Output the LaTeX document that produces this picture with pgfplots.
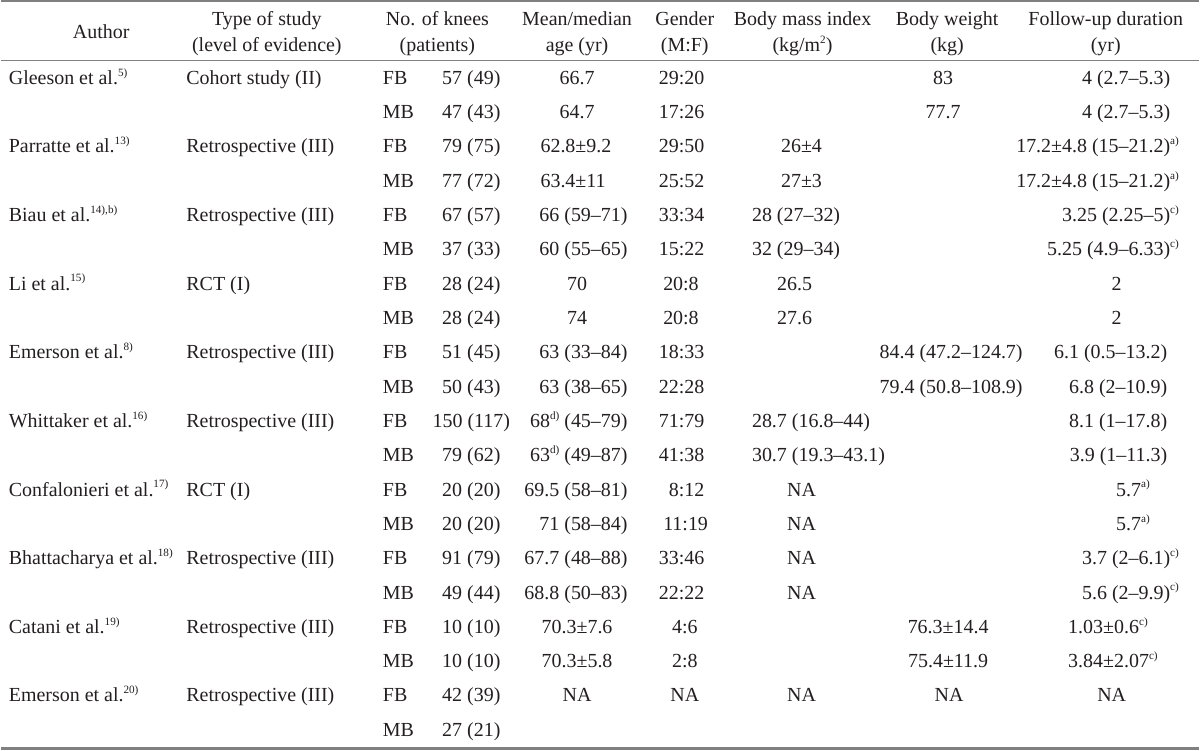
\documentclass[border=0pt]{standalone}
\usepackage{fontspec}
\setmainfont{Liberation Serif}
\usepackage{pgfplots}
\pgfplotsset{compat=1.18}
\definecolor{ink}{HTML}{231F20}
\definecolor{rule}{HTML}{808080}
\DeclareRobustCommand\sx[1]{\raisebox{0.9ex}{\fontsize{5.6}{6}\selectfont #1}}
\DeclareRobustCommand\hs[1]{\rlap{\sx{#1}}}
\newcommand\cellfont{\fontsize{10}{12}\selectfont}
\pgfplotsset{
  cell/.style={draw=none, mark=none, nodes near coords, point meta=explicit symbolic,
    nodes near coords style={anchor=#1, inner sep=0pt, font=\cellfont, text=ink}},
  rules/.style={rule, line width=#1, mark=none},
}

\begin{document}
\begin{tikzpicture}
\begin{axis}[
  hide axis, scale only axis, width=600pt, height=378pt,
  xmin=0, xmax=1200, ymin=0, ymax=756, y dir=reverse, clip=false,
]
% rules
\addplot[rules=1pt] coordinates {(0,2.5) (1200,2.5)};
\addplot[rules=0.4pt] coordinates {(0,62) (1200,62)};
\addplot[rules=1.5pt] coordinates {(0,752) (1200,752)};

% header
\addplot[cell=base] coordinates {
 (100,40) [Author]
 (266,27) [Type of study] (266,53) [(level of evidence)]
 (437,27) [No. of knees] (437,53) [(patients)]
 (577,27) [Mean/median] (577,53) [age (yr)]
 (685,27) [Gender] (685,53) [(M:F)]
 (803,27) [Body mass index] (803,53) [(kg/m\sx{2})]
 (948,27) [Body weight] (948,53) [(kg)]
 (1107,27) [Follow-up duration] (1107,53) [(yr)]
};

% left aligned cells
\addplot[cell=base west] coordinates {
 (7,86) [Gleeson et al.\sx{5)}]
 (7,154.8) [Parratte et al.\sx{13)}]
 (7,223.6) [Biau et al.\sx{14),b)}]
 (7,292.4) [Li et al.\sx{15)}]
 (7,361.2) [Emerson et al.\sx{8)}]
 (7,430) [Whittaker et al.\sx{16)}]
 (7,498.8) [Confalonieri et al.\sx{17)}]
 (7,567.6) [Bhattacharya et al.\sx{18)}]
 (7,636.4) [Catani et al.\sx{19)}]
 (7,705.2) [Emerson et al.\sx{20)}]
 (185,86) [Cohort study (II)]
 (185,154.8) [Retrospective (III)]
 (185,223.6) [Retrospective (III)]
 (185,292.4) [RCT (I)]
 (185,361.2) [Retrospective (III)]
 (185,430) [Retrospective (III)]
 (185,498.8) [RCT (I)]
 (185,567.6) [Retrospective (III)]
 (185,636.4) [Retrospective (III)]
 (185,705.2) [Retrospective (III)]
 (382,86) [FB] (382,120.4) [MB]
 (382,154.8) [FB] (382,189.2) [MB]
 (382,223.6) [FB] (382,258) [MB]
 (382,292.4) [FB] (382,326.8) [MB]
 (382,361.2) [FB] (382,395.6) [MB]
 (382,430) [FB] (382,464.4) [MB]
 (382,498.8) [FB] (382,533.2) [MB]
 (382,567.6) [FB] (382,602) [MB]
 (382,636.4) [FB] (382,670.8) [MB]
 (382,705.2) [FB] (382,739.6) [MB]
 (540,154.8) [62.8±9.2] (540,189.2) [63.4±11]
 (663,292.4) [20:8] (663,326.8) [20:8]
 (663,533.2) [11:19]
 (752,223.6) [28 (27–32)] (752,258) [32 (29–34)]
 (752,430) [28.7 (16.8–44)] (752,464.4) [30.7 (19.3–43.1)]
 (1069,636.4) [1.03±0.6\sx{c)}] (1069,670.8) [3.84±2.07\sx{c)}]
};

% right aligned cells
\addplot[cell=base east] coordinates {
 (628,223.6) [66 (59–71)] (628,258) [60 (55–65)]
 (628,361.2) [63 (33–84)] (628,395.6) [63 (38–65)]
 (628,430) [68\sx{d)} (45–79)] (628,464.4) [63\sx{d)} (49–87)]
 (628,498.8) [69.5 (58–81)] (628,533.2) [71 (58–84)]
 (628,567.6) [67.7 (48–88)] (628,602) [68.8 (50–83)]
 (705,86) [29:20] (705,120.4) [17:26]
 (705,154.8) [29:50] (705,189.2) [25:52]
 (705,223.6) [33:34] (705,258) [15:22]
 (705,361.2) [18:33] (705,395.6) [22:28]
 (705,430) [71:79] (705,464.4) [41:38]
 (705,498.8) [8:12]
 (705,567.6) [33:46] (705,602) [22:22]
 (1172,86) [4 (2.7–5.3)] (1172,120.4) [4 (2.7–5.3)]
 (1172,154.8) [17.2±4.8 (15–21.2)\hs{a)}] (1172,189.2) [17.2±4.8 (15–21.2)\hs{a)}]
 (1172,223.6) [3.25 (2.25–5)\hs{c)}] (1172,258) [5.25 (4.9–6.33)\hs{c)}]
 (1169,361.2) [6.1 (0.5–13.2)] (1169,395.6) [6.8 (2–10.9)]
 (1169,430) [8.1 (1–17.8)] (1169,464.4) [3.9 (1–11.3)]
 (1172,567.6) [3.7 (2–6.1)\hs{c)}] (1172,602) [5.6 (2–9.9)\hs{c)}]
};

% centred cells
\addplot[cell=base] coordinates {
 (471,86) [57 (49)] (471,120.4) [47 (43)]
 (471,154.8) [79 (75)] (471,189.2) [77 (72)]
 (471,223.6) [67 (57)] (471,258) [37 (33)]
 (471,292.4) [28 (24)] (471,326.8) [28 (24)]
 (471,361.2) [51 (45)] (471,395.6) [50 (43)]
 (471,430) [150 (117)] (471,464.4) [79 (62)]
 (471,498.8) [20 (20)] (471,533.2) [20 (20)]
 (471,567.6) [91 (79)] (471,602) [49 (44)]
 (471,636.4) [10 (10)] (471,670.8) [10 (10)]
 (471,705.2) [42 (39)] (471,739.6) [27 (21)]
 (577,86) [66.7] (577,120.4) [64.7]
 (577,292.4) [70] (577,326.8) [74]
 (577,636.4) [70.3±7.6] (577,670.8) [70.3±5.8]
 (577,705.2) [NA]
 (685,636.4) [4:6] (685,670.8) [2:8] (685,705.2) [NA]
 (802,154.8) [26±4] (802,189.2) [27±3]
 (795,292.4) [26.5] (795,326.8) [27.6]
 (802,498.8) [NA] (802,533.2) [NA] (802,567.6) [NA] (802,602) [NA]
 (802,705.2) [NA]
 (944,86) [83] (944,120.4) [77.7]
 (952,361.2) [84.4 (47.2–124.7)] (952,395.6) [79.4 (50.8–108.9)]
 (949,636.4) [76.3±14.4] (949,670.8) [75.4±11.9]
 (950,705.2) [NA]
 (1118,292.4) [2] (1118,326.8) [2]
 (1130,498.8) [5.7\hs{a)}] (1130,533.2) [5.7\hs{a)}]
 (1113,705.2) [NA]
};
\end{axis}
\end{tikzpicture}
\end{document}
